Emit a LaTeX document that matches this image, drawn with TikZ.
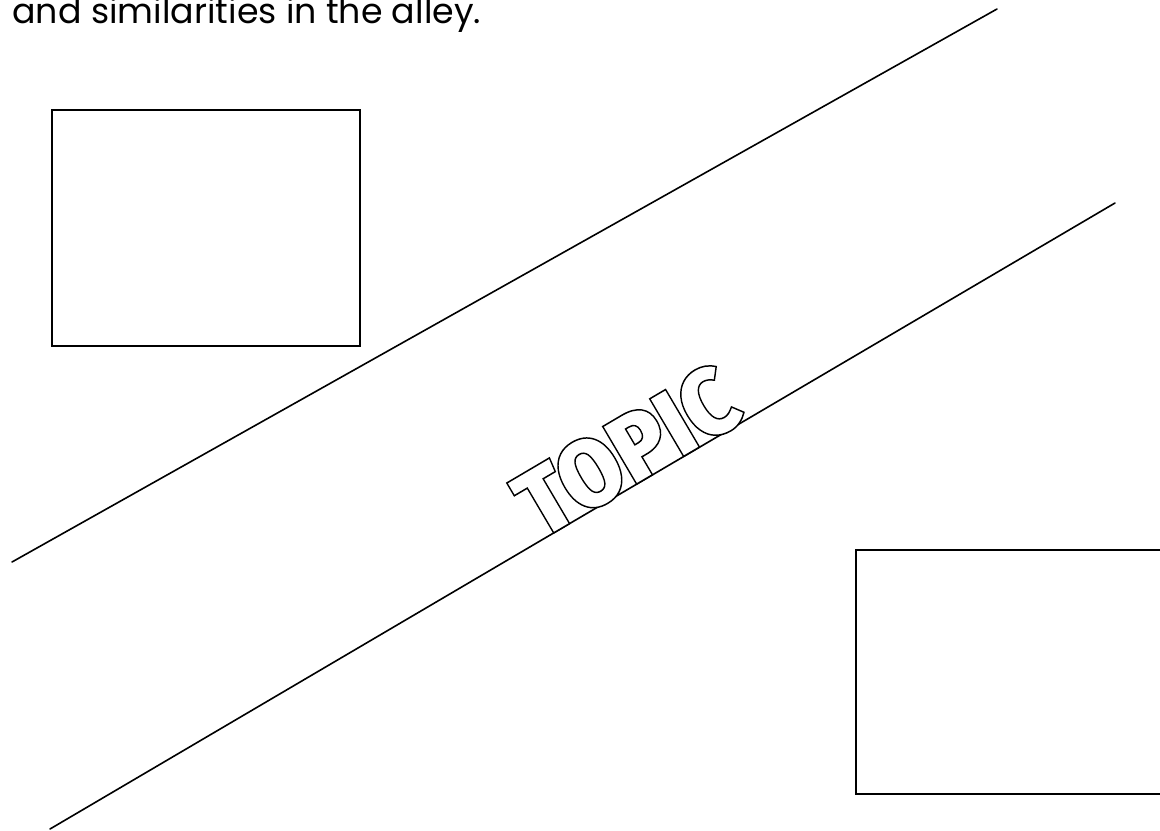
\documentclass[tikz,border=0pt]{standalone}
\usepackage{fontspec}
\setmainfont{Poppins}
\newfontfamily\topicfont{Fira Sans Black}
\usetikzlibrary{positioning}
\tikzset{
  % edge of the alley
  alley/.style={line width=0.8pt, line cap=round},
  % empty box to write in
  answerbox/.style={rectangle, draw, line width=1.1pt, inner sep=0pt, anchor=north west},
  % outlined word in the alley
  topicword/.style={font=\topicfont\fontsize{48}{48}\selectfont, inner sep=0pt, anchor=base west},
}
% hollow letters: white fill, black stroke
\newcommand{\hollow}[1]{{\color{white}\special{pdf:literal direct 2 Tr 0.75 w 0 G}#1\special{pdf:literal direct 0 Tr}}}

\begin{document}
\begin{tikzpicture}[x=0.5pt, y=-0.5pt]
  \useasboundingbox (0,0) rectangle (1160,830);
  \clip (0,0) rectangle (1160,830);
  \node[anchor=base west, inner sep=0pt, font=\fontsize{17.4}{17.4}\selectfont] (title) at (12,23)
    {and similarities in the alley.};
  % the two sides of the alley
  \coordinate (a1) at (12,562);
  \coordinate (a2) at (997,9);
  \coordinate (b1) at (50,829);
  \coordinate (b2) at (1115,203);
  \draw[alley] (a1) -- (a2);
  \draw[alley] (b1) -- (b2);
  \node[answerbox, minimum width=154pt, minimum height=118pt] (boxA) at (51,109) {};
  \node[answerbox, minimum width=162pt, minimum height=122pt] (boxB) at (855,549) {};
  \node[topicword, rotate=30.5, xscale=0.93] (topic) at (540,541) {\hollow{TOPIC}};
\end{tikzpicture}
\end{document}
